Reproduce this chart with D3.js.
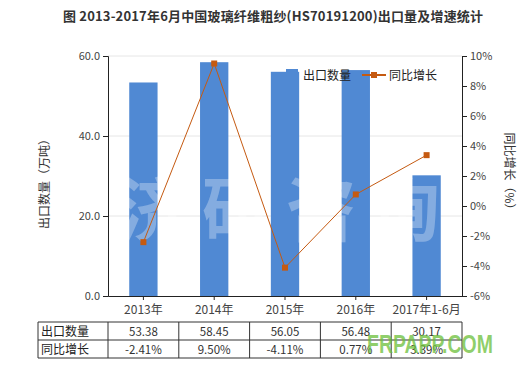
<!DOCTYPE html>
<html><head><meta charset="utf-8">
<script src="https://cdn.jsdelivr.net/npm/d3@7"></script>
<style>
body{margin:0;background:#fff;}
svg{display:block;font-family:"Microsoft YaHei","Noto Sans CJK SC",sans-serif;}
</style></head><body>
<svg id="chart" width="523" height="369"></svg>
<script>
const categories = ["2013年","2014年","2015年","2016年","2017年1-6月"];
const exportQty = [53.38, 58.45, 56.05, 56.48, 30.17];
const growth = [-2.41, 9.50, -4.11, 0.77, 3.39];
const qtyLabels = ["53.38","58.45","56.05","56.48","30.17"];
const growthLabels = ["-2.41%","9.50%","-4.11%","0.77%","3.39%"];
const leftTicks = [0, 20, 40, 60];
const rightTicks = [-6,-4,-2,0,2,4,6,8,10];
const seriesNames = ["出口数量","同比增长"];
const title = "图 2013-2017年6月中国玻璃纤维粗纱(HS70191200)出口量及增速统计";

const svg = d3.select("#chart");
const L = 108, R = 462, T = 56, B = 296;
const barColor = "#5089d3", lineColor = "#c55a11";

const x = d3.scaleBand().domain(categories).range([L, R]).paddingInner(0.6).paddingOuter(0.3);
const yL = d3.scaleLinear().domain([0, 60]).range([B, T]);
const yR = d3.scaleLinear().domain([-6, 10]).range([B, T]);

// title
svg.append("text").attr("x", 273).attr("y", 21).attr("text-anchor","middle")
  .attr("font-size", 13).attr("font-weight","bold").attr("fill","#333")
  .attr("textLength", 420).attr("lengthAdjust","spacing").text(title);

// gridlines
svg.append("g").selectAll("line").data(leftTicks.filter(d=>d>0)).join("line")
  .attr("x1", L).attr("x2", R).attr("y1", d=>yL(d)).attr("y2", d=>yL(d))
  .attr("stroke","#e6e6e6").attr("stroke-width",1);

// bars
svg.append("g").selectAll("rect").data(exportQty).join("rect")
  .attr("x", (d,i)=>x(categories[i])).attr("width", x.bandwidth())
  .attr("y", d=>yL(d)).attr("height", d=>B - yL(d)).attr("fill", barColor);

// watermark
svg.append("text").attr("x", 118).attr("y", 236).attr("font-size", 70).attr("font-weight","bold")
  .attr("letter-spacing", 14).attr("fill","#fff").attr("fill-opacity",0.3).text("济研咨询");

// line
const line = d3.line().x((d,i)=>x(categories[i]) + x.bandwidth()/2).y(d=>yR(d));
svg.append("path").datum(growth).attr("d", line).attr("fill","none")
  .attr("stroke", lineColor).attr("stroke-width", 1);
svg.append("g").selectAll("rect").data(growth).join("rect")
  .attr("x", (d,i)=>x(categories[i]) + x.bandwidth()/2 - 3).attr("y", d=>yR(d)-3)
  .attr("width",6).attr("height",6).attr("fill", lineColor);

// axes
const axL = svg.append("g").attr("transform",`translate(${L},0)`)
  .call(d3.axisLeft(yL).tickValues(leftTicks).tickFormat(d3.format(".1f")).tickSize(5).tickPadding(3));
const axR = svg.append("g").attr("transform",`translate(${R},0)`)
  .call(d3.axisRight(yR).tickValues(rightTicks).tickFormat(d=>d+"%").tickSize(5).tickPadding(3));
const axB = svg.append("g").attr("transform",`translate(0,${B})`)
  .call(d3.axisBottom(x).tickSize(4).tickPadding(5).tickSizeOuter(0));
[axL, axR, axB].forEach(a=>{
  a.select(".domain").attr("stroke","#222");
  a.selectAll(".tick line").attr("stroke","#222");
  a.selectAll("text").attr("font-size", 11).attr("fill","#444")
    .attr("font-family",'"Microsoft YaHei","Noto Sans CJK SC",sans-serif');
});
axB.selectAll("text").attr("font-size", 12);

// axis titles
svg.append("text").attr("transform","translate(49,181) rotate(-90)").attr("text-anchor","middle")
  .attr("font-size",12).attr("fill","#333").text("出口数量（万吨）");
svg.append("text").attr("transform","translate(505,174) rotate(90)").attr("text-anchor","middle")
  .attr("font-size",12).attr("fill","#333").text("同比增长（%）");

// legend
const lg = svg.append("g");
lg.append("rect").attr("x",286).attr("y",69).attr("width",12).attr("height",11).attr("fill",barColor);
lg.append("text").attr("x",303).attr("y",80).attr("font-size",12).attr("fill","#222").text(seriesNames[0]);
lg.append("line").attr("x1",362).attr("x2",386).attr("y1",75).attr("y2",75).attr("stroke",lineColor).attr("stroke-width",2);
lg.append("rect").attr("x",371).attr("y",72).attr("width",6).attr("height",6).attr("fill",lineColor);
lg.append("text").attr("x",389).attr("y",80).attr("font-size",12).attr("fill","#222").text(seriesNames[1]);

// table
const tb = svg.append("g");
const tL = 38, rows = [322, 340, 358];
const colEdges = [tL, L].concat(categories.map(c=>x(c) - x.step()*x.paddingInner()/2 + x.step()));
rows.forEach(y=>tb.append("line").attr("x1",tL).attr("x2",R).attr("y1",y).attr("y2",y).attr("stroke","#333"));
colEdges.forEach(cx=>tb.append("line").attr("x1",cx).attr("x2",cx).attr("y1",rows[0]).attr("y2",rows[2]).attr("stroke","#333"));
[seriesNames[0], seriesNames[1]].forEach((n,r)=>tb.append("text").attr("x",tL+3).attr("y",rows[r]+14)
  .attr("font-size",12).attr("fill","#222").text(n));
[qtyLabels, growthLabels].forEach((arr,r)=>{
  tb.selectAll(null).data(arr).join("text")
    .attr("x",(d,i)=>x(categories[i]) + x.bandwidth()/2).attr("y", rows[r]+14)
    .attr("text-anchor","middle").attr("font-size",11.5).attr("fill","#333").text(d=>d);
});

// site watermark
svg.append("text").attr("x",367).attr("y",353).attr("font-size",25).attr("font-weight","bold")
  .attr("font-family","Arial, 'Liberation Sans', sans-serif")
  .attr("textLength",126).attr("lengthAdjust","spacingAndGlyphs")
  .attr("fill","#6cbf3a").attr("fill-opacity",0.75).text("FRPAPP.COM");
</script>
</body></html>
